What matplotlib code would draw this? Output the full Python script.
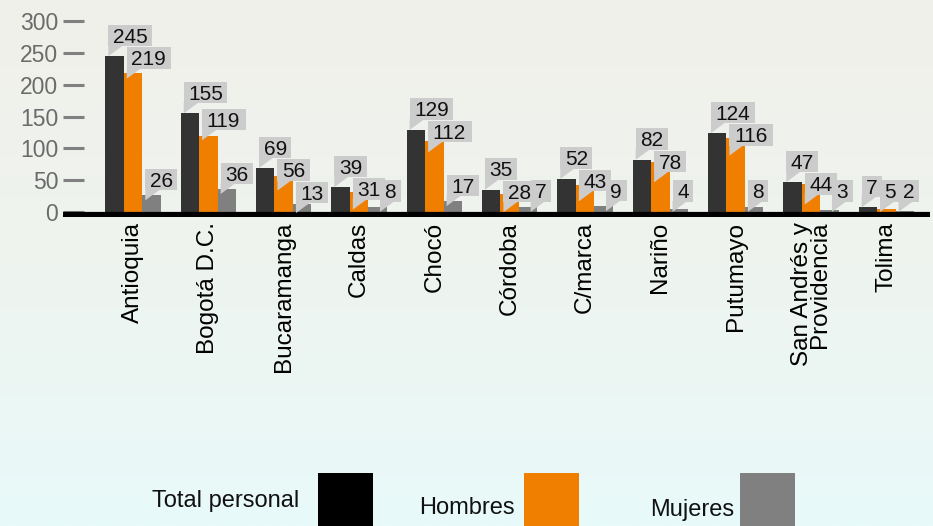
import numpy as np
import matplotlib.pyplot as plt
from matplotlib.patches import Rectangle, Polygon
from matplotlib.colors import LinearSegmentedColormap
from matplotlib.transforms import IdentityTransform

plt.rcParams['font.family'] = ['Liberation Sans', 'DejaVu Sans']

# Datos
departamentos = ['Antioquia', 'Bogotá D.C.', 'Bucaramanga', 'Caldas', 'Chocó', 'Córdoba',
                 'C/marca', 'Nariño', 'Putumayo', 'San Andrés y\nProvidencia', 'Tolima']
total = [245, 155, 69, 39, 129, 35, 52, 82, 124, 47, 7]
hombres = [219, 119, 56, 31, 112, 28, 43, 78, 116, 44, 5]
mujeres = [26, 36, 13, 8, 17, 7, 9, 4, 8, 3, 2]
series = ['Total personal', 'Hombres', 'Mujeres']
colores_barra = ['#333333', '#f07f00', '#808080']
colores_leyenda = ['#000000', '#f07f00', '#808080']
y_ticks = [0, 50, 100, 150, 200, 250, 300]

fig = plt.figure(figsize=(9.33, 5.26), dpi=100)

# Fondo degradado
bg = fig.add_axes([0, 0, 1, 1], zorder=-10)
grad = np.linspace(0, 1, 256).reshape(-1, 1)
cmap = LinearSegmentedColormap.from_list('fondo', ['#f1f0ea', '#eef4ef', '#e8fafa'])
bg.imshow(grad, aspect='auto', cmap=cmap, extent=[0, 1, 0, 1], origin='upper')
bg.set_axis_off()

ax = fig.add_axes([63 / 933, 309 / 526, 867 / 933, 195.8 / 526])
ax.patch.set_visible(False)
for s in ax.spines.values():
    s.set_visible(False)

x = np.arange(len(departamentos))
w = 0.245
ax.set_xlim(-0.93, 10.58)
ax.set_ylim(-8, 300)

valores = [total, hombres, mujeres]
for k, (vals, col) in enumerate(zip(valores, colores_barra)):
    ax.bar(x + (k - 1) * w, vals, w, color=col, zorder=2)

ax.axhline(-5.5, color='black', lw=5.2, zorder=3)

ax.set_yticks(y_ticks)
ax.tick_params(axis='y', direction='in', length=15, width=2.2, color='#808080',
               labelcolor='#6b6b6b', labelsize=16.5, pad=3.5)
ax.set_xticks(x, departamentos, rotation=90, fontsize=17.5)
ax.tick_params(axis='x', length=0, pad=3.6)
for lbl in ax.get_xticklabels():
    lbl.set_multialignment('right')
    lbl.set_linespacing(0.75)

# Etiquetas tipo globo (cajas grises con puntero)
fs = 15
em = fs * fig.dpi / 72
bh = 21.5
sube = [10, 6, 5]
zero_px = ax.transData.transform((0, 0))[1]
piso = zero_px + 10


def choca(a, b, tol):
    return (a['L'] < b['R'] - 3 and b['L'] < a['R'] - 3 and
            a['b'] < b['b'] + bh - tol and b['b'] < a['b'] + bh - tol)


for i in range(len(departamentos)):
    cajas = []
    for k in range(3):
        v = valores[k][i]
        xl = x[i] + (k - 1) * w - w / 2
        px, py = ax.transData.transform((xl, v))
        txt = str(v)
        tw = len(txt) * 0.556 * em
        c = {'txt': txt, 'b': max(py + sube[k], piso), 'tl': px + 7.5, 'tw': tw}
        c['L'], c['R'] = c['tl'] - 4.5, c['tl'] + tw + 4.5
        for otra in cajas:
            if choca(c, otra, 0):
                nueva_b = otra['b'] - bh - 1
                if nueva_b >= piso - 3:
                    c['b'] = nueva_b
                    continue
            if choca(c, otra, 3):
                c['tl'] = max(c['tl'], otra['tl'] + otra['tw'] + 4)
                c['L'], c['R'] = c['tl'] - 4.5, c['tl'] + tw + 4.5
        cajas.append(c)

    for c in cajas:
        fig.add_artist(Rectangle((c['L'], c['b']), c['R'] - c['L'], bh,
                                 transform=IdentityTransform(), fc='#cccccc', ec='none', zorder=10))
        fig.add_artist(Polygon([(c['L'], c['b'] + 1), (c['L'], c['b'] - 10), (c['L'] + 15, c['b'] + 1)],
                               closed=True, transform=IdentityTransform(),
                               fc='#cccccc', ec='none', zorder=10))
        fig.text(c['tl'], c['b'] + 3.5, c['txt'], transform=IdentityTransform(),
                 ha='left', va='baseline', fontsize=fs, color='#111111', zorder=20)

# Leyenda
ley_x = [318, 524, 740]
ley_txt_x = [299, 515, 734]
ley_txt_y = [25, 18, 16]
for nombre, col, lx, tx, ty in zip(series, colores_leyenda, ley_x, ley_txt_x, ley_txt_y):
    fig.add_artist(Rectangle((lx / 933, 0), 55 / 933, 53 / 526, transform=fig.transFigure,
                             fc=col, ec='none'))
    fig.text(tx / 933, ty / 526, nombre, ha='right', va='center', fontsize=17,
             color='#111111')

fig.savefig('out.png', dpi=100)
